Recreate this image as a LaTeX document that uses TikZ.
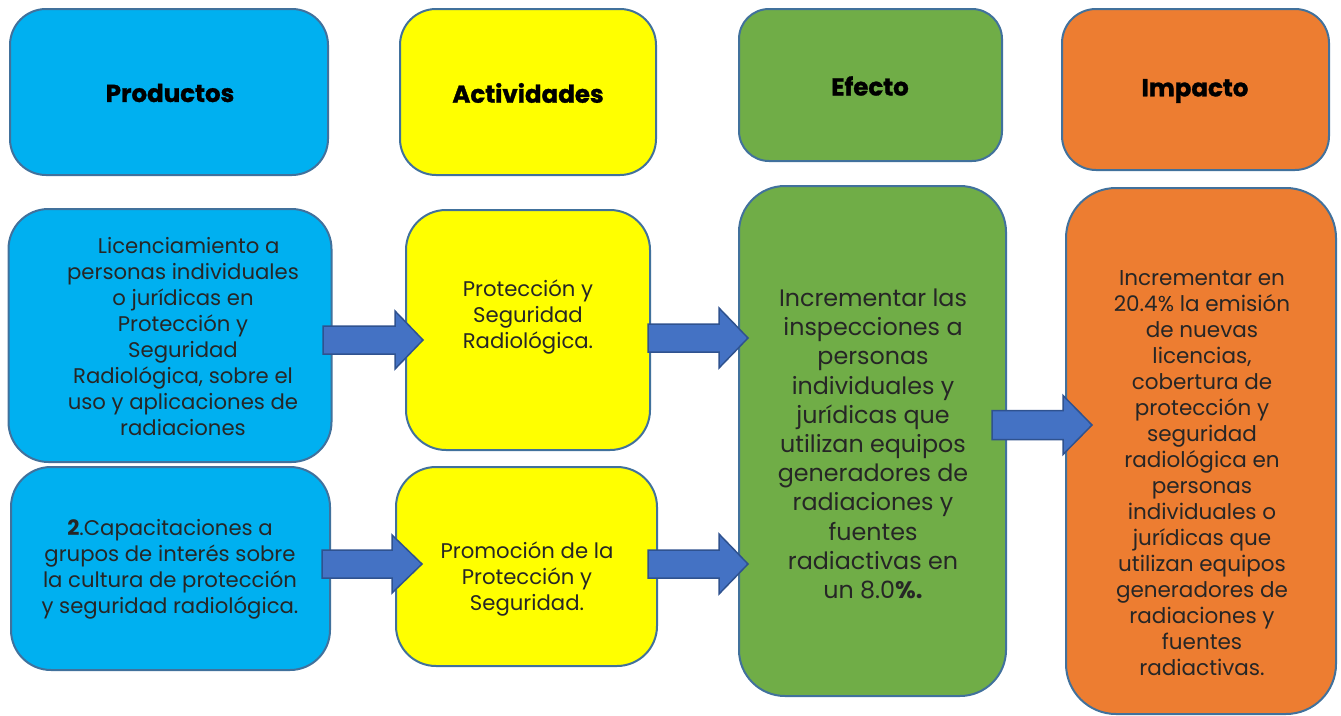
\documentclass[tikz,border=0pt]{standalone}
\usepackage{fontspec}
\setmainfont{Poppins}
\definecolor{cblue}{HTML}{00B0F0}
\definecolor{cyellow}{HTML}{FFFF00}
\definecolor{cgreen}{HTML}{70AD47}
\definecolor{corange}{HTML}{ED7D31}
\definecolor{cborder}{HTML}{41719C}
\definecolor{carrow}{HTML}{4472C4}
\definecolor{carrowb}{HTML}{2F528F}
\newcommand\blockarrow[7]{% name, x0, x1, x2(tip), yc, shaft half, head half
  \coordinate (#1-s) at (#2,#5);
  \coordinate (#1-t) at (#4,#5);
  \draw[arrowshape] (#2,#5-#6) -- (#3,#5-#6) -- (#3,#5-#7) -- (#1-t) -- (#3,#5+#7) -- (#3,#5+#6) -- (#2,#5+#6) -- cycle;}
\begin{document}
\begin{tikzpicture}[x=1pt,y=-1pt,
  card/.style={draw=cborder, line width=2pt, rectangle, inner sep=0pt},
  headtxt/.style={font=\fontsize{24.5}{28}\selectfont\bfseries\addfontfeatures{FakeBold=1.2}, text=black},
  bodytxt/.style={font=\fontsize{21.2}{26}\selectfont, align=center, text=black!85},
  orangetxt/.style={font=\fontsize{21.5}{26}\selectfont, align=center, text=black!85},
  greentxt/.style={font=\fontsize{23.8}{29.2}\selectfont, align=center, text=black!85},
  arrowshape/.style={fill=carrow, draw=carrowb, line width=1.5pt, line join=miter}]
\useasboundingbox (0,0) rectangle (1341,715);
% header cards
\node[card, fill=cblue, rounded corners=36pt, minimum width=318pt, minimum height=166pt] (hp) at (169,92) {};
\node[card, fill=cyellow, rounded corners=36pt, minimum width=256pt, minimum height=166pt] (ha) at (528,92) {};
\node[card, fill=cgreen, rounded corners=30pt, minimum width=263pt, minimum height=152pt] (he) at (870.5,85) {};
\node[card, fill=corange, rounded corners=34pt, minimum width=267pt, minimum height=161pt] (hi) at (1195.5,89.5) {};
\node[headtxt] (thp) at (170,93) {Productos};
\node[headtxt] (tha) at (528,93) {Actividades};
\node[headtxt] (the) at (870,86) {Efecto};
\node[headtxt] (thi) at (1195,91) {Impacto};
% body cards
\node[card, fill=cblue, rounded corners=40pt, minimum width=323pt, minimum height=253pt] (b1) at (170,335.5) {};
\node[card, fill=cblue, rounded corners=40pt, minimum width=319pt, minimum height=203pt] (b2) at (170.5,568.5) {};
\node[card, fill=cyellow, rounded corners=40pt, minimum width=244pt, minimum height=240pt] (y1) at (528,330) {};
\node[card, fill=cyellow, rounded corners=40pt, minimum width=261pt, minimum height=199pt] (y2) at (526.5,566.5) {};
\node[card, fill=cgreen, rounded corners=46pt, minimum width=267pt, minimum height=510pt] (g) at (872.5,441) {};
\node[card, fill=corange, rounded corners=50pt, minimum width=270pt, minimum height=526pt] (o) at (1201,451) {};
% texts
\node[bodytxt] (tb1) at (183,337) {\ \ Licenciamiento a\\personas individuales\\o jurídicas en\\Protección y\\Seguridad\\Radiológica, sobre el\\uso y aplicaciones de\\radiaciones};
\node[bodytxt] (tb2) at (170,569) {{\bfseries 2}.Capacitaciones a\\grupos de interés sobre\\la cultura de protección\\y seguridad radiológica.};
\node[bodytxt] (ty1) at (528,317) {Protección y\\Seguridad\\Radiológica.};
\node[bodytxt] (ty2) at (527,579) {Promoción de la\\Protección y\\Seguridad.};
\node[greentxt] (tg) at (873,444) {Incrementar las\\inspecciones a\\personas\\individuales y\\jurídicas que\\utilizan equipos\\generadores de\\radiaciones y\\fuentes\\radiactivas en\\un 8.0{\bfseries\%.}};
\node[orangetxt] (to) at (1202,473) {Incrementar en\\20.4\% la emisión\\de nuevas\\licencias,\\cobertura de\\protección y\\seguridad\\radiológica en\\personas\\individuales o\\jurídicas que\\utilizan equipos\\generadores de\\radiaciones y\\fuentes\\radiactivas.};
% block arrows
\blockarrow{a1}{323}{395}{423}{340}{14}{29}
\blockarrow{a2}{648}{719}{748}{338}{14}{30}
\blockarrow{a3}{322}{392}{422}{564}{14}{29}
\blockarrow{a4}{648}{719}{748}{564}{14}{30}
\blockarrow{a5}{992}{1063}{1092}{425}{14.5}{29.5}
\end{tikzpicture}
\end{document}
